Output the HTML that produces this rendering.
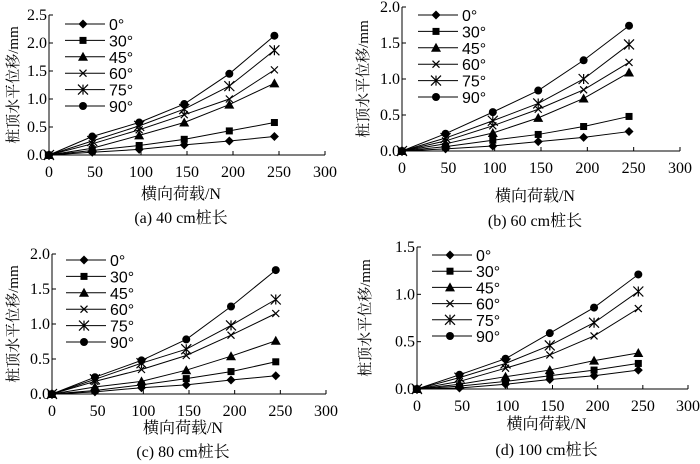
<!DOCTYPE html>
<html><head><meta charset="utf-8">
<style>
body{margin:0;background:#fff;}
svg{display:block;}
text{fill:#000;}
.tk{font-family:"Liberation Serif","Noto Serif CJK SC",serif;font-size:16px;}
.lg{font-family:"Liberation Sans",sans-serif;font-size:16px;}
.ti{font-family:"Liberation Serif","Noto Serif CJK SC",serif;font-size:16px;}
.yt{font-family:"Liberation Serif","Noto Serif CJK SC",serif;font-size:15px;}
</style></head>
<body>
<svg id="chart" width="700" height="464" viewBox="0 0 700 464" xmlns="http://www.w3.org/2000/svg"></svg>
<script>
const xValues = [0, 47, 98, 147, 196, 245];
const xTicks = [0, 50, 100, 150, 200, 250, 300];
const seriesNames = ["0°", "30°", "45°", "60°", "75°", "90°"];
const markers = ["diamond", "square", "triangle", "x", "star", "circle"];

const aTicks = [0.0, 0.5, 1.0, 1.5, 2.0, 2.5];
const a0 = [0, 0.05, 0.10, 0.18, 0.25, 0.33];
const a30 = [0, 0.08, 0.17, 0.28, 0.43, 0.58];
const a45 = [0, 0.12, 0.35, 0.58, 0.90, 1.28];
const a60 = [0, 0.20, 0.45, 0.72, 1.00, 1.52];
const a75 = [0, 0.25, 0.52, 0.82, 1.23, 1.87];
const a90 = [0, 0.33, 0.58, 0.91, 1.45, 2.13];

const bTicks = [0.0, 0.5, 1.0, 1.5, 2.0];
const b0 = [0, 0.03, 0.07, 0.13, 0.19, 0.27];
const b30 = [0, 0.06, 0.15, 0.23, 0.34, 0.48];
const b45 = [0, 0.10, 0.25, 0.46, 0.73, 1.09];
const b60 = [0, 0.14, 0.35, 0.58, 0.85, 1.23];
const b75 = [0, 0.18, 0.42, 0.66, 1.00, 1.48];
const b90 = [0, 0.24, 0.54, 0.84, 1.26, 1.74];

const cTicks = [0.0, 0.5, 1.0, 1.5, 2.0];
const c0 = [0, 0.03, 0.09, 0.13, 0.20, 0.26];
const c30 = [0, 0.05, 0.13, 0.22, 0.32, 0.46];
const c45 = [0, 0.10, 0.18, 0.34, 0.54, 0.76];
const c60 = [0, 0.18, 0.35, 0.55, 0.84, 1.15];
const c75 = [0, 0.21, 0.44, 0.64, 0.98, 1.35];
const c90 = [0, 0.24, 0.48, 0.78, 1.25, 1.77];

const dTicks = [0.0, 0.5, 1.0, 1.5];
const d0 = [0, 0.01, 0.05, 0.10, 0.14, 0.20];
const d30 = [0, 0.03, 0.08, 0.14, 0.20, 0.27];
const d45 = [0, 0.05, 0.13, 0.20, 0.30, 0.38];
const d60 = [0, 0.08, 0.22, 0.36, 0.56, 0.85];
const d75 = [0, 0.12, 0.27, 0.46, 0.70, 1.03];
const d90 = [0, 0.15, 0.32, 0.59, 0.86, 1.21];

const panels = [
 {id:"a", x0:49, x1:325, y0:155, y1:15, ymax:2.5, ticks:aTicks, series:[a0,a30,a45,a60,a75,a90], lgx:65, lgy:24, lgs:16.4, ytx:12, xty:199, capy:223, cap:"(a) 40 cm桩长"},
 {id:"b", x0:402, x1:680, y0:151, y1:7, ymax:2.0, ticks:bTicks, series:[b0,b30,b45,b60,b75,b90], lgx:418, lgy:15, lgs:16.4, ytx:362, xty:201, capy:226, cap:"(b) 60 cm桩长"},
 {id:"c", x0:52, x1:326, y0:394, y1:254, ymax:2.0, ticks:cTicks, series:[c0,c30,c45,c60,c75,c90], lgx:66, lgy:260, lgs:16.4, ytx:12, xty:433, capy:457, cap:"(c) 80 cm桩长"},
 {id:"d", x0:417, x1:688, y0:389, y1:247, ymax:1.5, ticks:dTicks, series:[d0,d30,d45,d60,d75,d90], lgx:432, lgy:255, lgs:16.2, ytx:364, xty:429, capy:455, cap:"(d) 100 cm桩长"}
];

const NS = "http://www.w3.org/2000/svg";
const svg = document.getElementById("chart");
function mk(tag, attrs, parent){const e=document.createElementNS(NS,tag);for(const k in attrs)e.setAttribute(k,attrs[k]);(parent||svg).appendChild(e);return e;}

function drawMarker(g, type, x, y){
  let m;
  if(type==="diamond") m=mk("polygon",{points:`${x},${y-4.5} ${x+4.5},${y} ${x},${y+4.5} ${x-4.5},${y}`,fill:"#000"},g);
  else if(type==="square") m=mk("rect",{x:x-3.5,y:y-3.5,width:7,height:7,fill:"#000"},g);
  else if(type==="triangle") m=mk("polygon",{points:`${x},${y-5} ${x+5},${y+4} ${x-5},${y+4}`,fill:"#000"},g);
  else if(type==="circle") m=mk("circle",{cx:x,cy:y,r:4,fill:"#000"},g);
  else if(type==="x") m=mk("path",{d:`M${x-3.5} ${y-3.5}L${x+3.5} ${y+3.5}M${x-3.5} ${y+3.5}L${x+3.5} ${y-3.5}`,stroke:"#000","stroke-width":1.2},g);
  else m=mk("path",{d:`M${x-5} ${y-5}L${x+5} ${y+5}M${x-5} ${y+5}L${x+5} ${y-5}M${x} ${y-5}L${x} ${y+5}`,stroke:"#000","stroke-width":1.2},g);
  return m;
}

panels.forEach(p=>{
  const g = mk("g",{});
  
  
  const sx = v => p.x0 + (v/300)*(p.x1-p.x0);
  const sy = v => p.y0 - (v/p.ymax)*(p.y0-p.y1);
  const ax = mk("path",{d:`M${p.x0} ${p.y1}L${p.x0} ${p.y0}L${p.x1} ${p.y0}`,fill:"none",stroke:"#000","stroke-width":1},g);
  
  
  p.ticks.forEach(t=>{
    const y=sy(t);
    mk("line",{x1:p.x0,x2:p.x0+4,y1:y,y2:y,stroke:"#000"},g);
    const tx=mk("text",{x:p.x0-2,y:y+5,"text-anchor":"end",class:"tk"},g);
    tx.textContent=t.toFixed(1);
    
    
  });
  xTicks.forEach(t=>{
    const x=sx(t);
    mk("line",{x1:x,x2:x,y1:p.y0,y2:p.y0-4,stroke:"#000"},g);
    const tx=mk("text",{x:x,y:p.y0+22,"text-anchor":"middle",class:"tk"},g);
    tx.textContent=t;
    
    
  });
  p.series.forEach((vals,i)=>{
    const sg=mk("g",{},g);
    
    
    const pts=vals.map((v,j)=>sx(xValues[j])+","+sy(v)).join(" ");
    mk("polyline",{points:pts,fill:"none",stroke:"#000","stroke-width":1},sg);
    vals.forEach((v,j)=>{
      const m=drawMarker(sg,markers[i],sx(xValues[j]),sy(v));
      
      
    });
    const ly=p.lgy+i*p.lgs;
    const lg=mk("g",{},g);
    
    
    mk("line",{x1:p.lgx,x2:p.lgx+40,y1:ly,y2:ly,stroke:"#000"},lg);
    drawMarker(lg,markers[i],p.lgx+18,ly);
    const lt=mk("text",{x:p.lgx+44,y:ly+6,class:"lg"},lg);
    lt.textContent=seriesNames[i];
  });
  const yt=mk("text",{x:0,y:0,"text-anchor":"middle",class:"yt",transform:`translate(${p.ytx+6},${(p.y0+p.y1)/2}) rotate(-90)`},g);
  yt.textContent="桩顶水平位移/mm";
  
  
  const xt=mk("text",{x:(p.x0+p.x1)/2-6,y:p.xty,"text-anchor":"middle",class:"ti"},g);
  xt.textContent="横向荷载/N";
  
  
  const cp=mk("text",{x:(p.x0+p.x1)/2-6,y:p.capy,"text-anchor":"middle",class:"ti"},g);
  cp.textContent=p.cap;
  
  
});
</script>
</body></html>
